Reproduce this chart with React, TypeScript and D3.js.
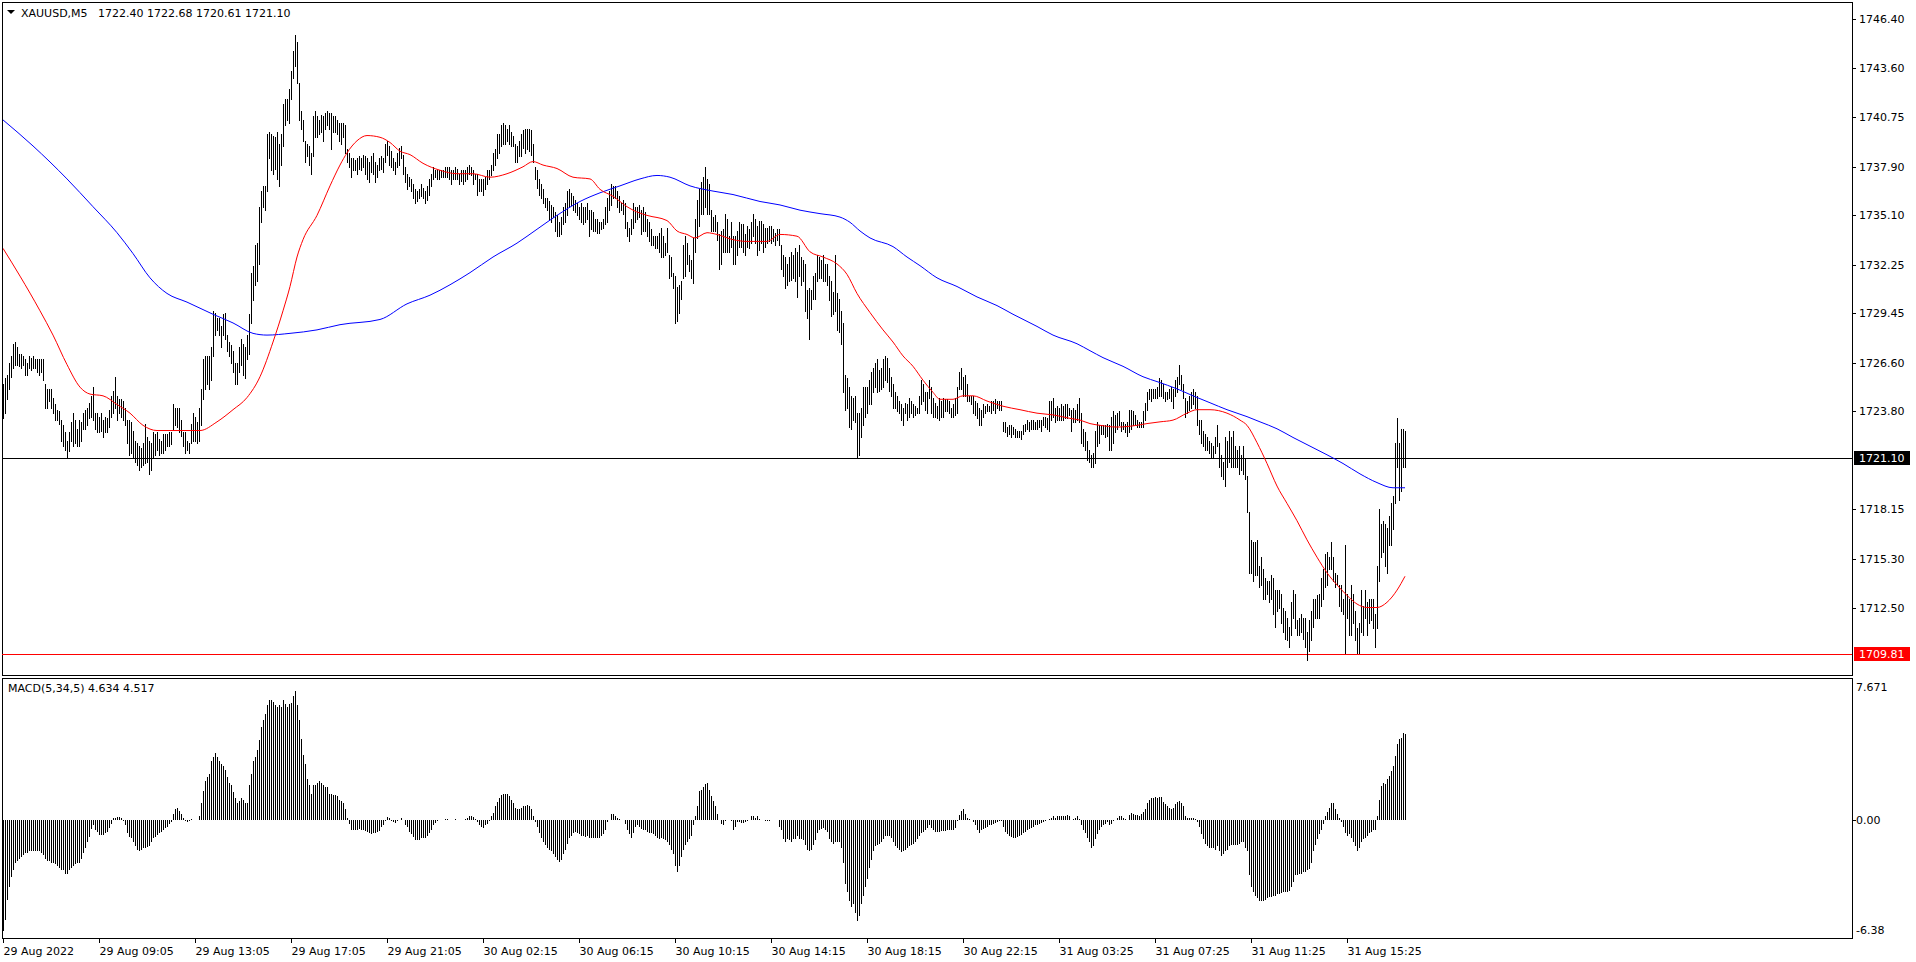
import { useEffect, useRef } from 'react';
import * as d3 from 'd3';

// 5-minute XAUUSD bars, highs and lows stored in tenths above 1700 (price = 1700 + v / 10)
const barHigh = [
  254, 257, 259, 266, 270, 277, 278, 275, 271, 271, 270, 268, 266, 270, 269, 270, 268, 268, 268, 268,
  268, 254, 251, 251, 251, 246, 242, 239, 238, 233, 230, 226, 221, 226, 232, 237, 233, 228, 233, 232,
  237, 239, 240, 243, 247, 252, 237, 237, 235, 237, 233, 235, 234, 239, 247, 250, 258, 247, 245, 245,
  244, 240, 233, 233, 232, 227, 221, 220, 218, 217, 220, 231, 223, 221, 220, 226, 225, 226, 222, 221,
  225, 225, 225, 226, 226, 242, 240, 240, 240, 233, 226, 226, 221, 220, 231, 237, 235, 232, 240, 251,
  268, 270, 270, 270, 275, 296, 295, 292, 292, 287, 294, 295, 282, 278, 276, 273, 266, 266, 275, 280,
  277, 275, 282, 294, 318, 322, 334, 335, 356, 365, 368, 368, 398, 399, 398, 397, 396, 399, 392, 398,
  415, 418, 418, 424,
  434, 446, 455, 451, 427, 411, 406, 394, 392, 391, 387, 408, 411, 408, 406, 409, 408, 410, 411, 410,
  410, 408, 408, 406, 404, 404, 404, 403, 389, 387, 384, 384, 383, 384, 385, 384, 386, 385, 384, 382,
  385, 387, 382, 380, 384, 385, 384, 392, 394, 391, 388, 384, 382, 387, 390, 391, 386, 379, 375, 373,
  372, 369, 366, 365, 366, 369, 367, 365, 368, 372, 375, 379, 377, 377, 377, 377, 377, 379, 379, 379,
  377, 377, 379, 378, 375, 377, 377, 377, 379, 380, 379, 377, 375, 375, 372, 372, 372, 373, 377, 377,
  380, 387, 389, 398, 398, 403, 404, 403, 401, 403, 399, 397, 392, 391, 394, 398, 400, 401, 401, 401,
  400, 392, 379, 377, 372, 369, 366, 361, 361, 359, 357, 356, 353, 351, 347, 350, 356, 358, 365, 366,
  364, 362, 360, 358, 356,
  358, 356, 356, 358, 354, 354, 353, 349, 349, 347, 347, 349, 356, 361, 365, 369, 368, 368, 365, 362,
  358, 360, 358, 347, 344, 349, 358, 356, 356, 357, 354, 356, 353, 349, 347, 343, 339, 339, 339, 341,
  344, 339, 335, 344, 328, 327, 318, 316, 310, 311, 313, 334, 339, 335, 328, 325, 338, 349, 360, 366,
  370, 373, 379, 372, 369, 354, 350, 351, 347, 340, 342, 343, 352, 349, 339, 347, 339, 339, 342, 347,
  346, 346, 340, 345, 343, 347, 352, 349, 345, 348, 348, 346, 344, 344, 345, 345, 343, 341, 343, 343,
  334, 328, 327, 323, 327, 330, 328, 332, 330, 334, 327, 325, 323, 308, 309, 308, 316, 318, 328, 327,
  325, 328, 323, 323, 316, 313, 307, 328, 306, 303, 296, 289, 259, 257, 252, 247, 246, 247, 237, 237,
  240, 252, 252, 252, 256,
  261, 263, 266, 268, 262, 263, 268, 270, 269, 263, 258, 254, 249, 247, 244, 242, 240, 243, 242, 246,
  244, 242, 241, 240, 247, 256, 254, 249, 249, 256, 252, 246, 243, 241, 246, 244, 246, 245, 245, 244,
  240, 242, 246, 252, 261, 263, 258, 259, 254, 247, 247, 247, 244, 243, 240, 239, 242, 241, 242, 241,
  244, 244, 245, 244, 244, 244, 232, 232, 229, 230, 230, 229, 228, 227, 227, 227, 230, 231, 233, 232,
  233, 233, 232, 233, 233, 233, 235, 235, 234, 244, 244, 246, 240, 241, 240, 242, 241, 242, 242, 240,
  239, 240, 239, 242, 246, 237, 228, 226, 221, 216, 213, 214, 227, 232, 230, 230, 230, 230, 231, 230,
  235, 238, 236, 237, 238, 232, 232, 231, 232, 239, 239, 238, 236, 233, 232, 232, 238, 243, 249, 251,
  251, 251, 251, 252, 257,
  256, 254, 249, 249, 251, 252, 251, 256, 258, 265, 259, 254, 246, 244, 247, 249, 251, 249, 247, 233,
  233, 227, 225, 223, 221, 220, 218, 223, 230, 220, 213, 209, 223, 221, 227, 223, 227, 218, 216, 218,
  213, 218, 211, 201, 180, 164, 163, 163, 164, 149, 154, 147, 142, 140, 140, 144, 142, 135, 135, 135,
  133, 125, 123, 119, 114, 128, 135, 133, 118, 119, 121, 119, 119, 111, 118, 123, 130, 130, 132, 133,
  142, 147, 156, 157, 154, 163, 154, 145, 144, 138, 138, 130, 161, 133, 130, 138, 133, 123, 113, 116,
  135, 126, 135, 128, 130, 130, 130, 121, 149, 182, 173, 175, 173, 171, 178, 185, 189, 220, 234, 220,
  228, 228, 227,
];

const barLow = [
  234, 237, 245, 251, 258, 263, 265, 265, 264, 263, 265, 259, 259, 263, 262, 263, 263, 261, 259, 261,
  256, 240, 240, 244, 240, 237, 233, 233, 231, 221, 218, 216, 211, 215, 221, 218, 220, 218, 218, 221,
  228, 228, 230, 234, 235, 233, 228, 226, 226, 227, 223, 226, 226, 229, 235, 237, 240, 233, 237, 235,
  233, 230, 220, 213, 214, 211, 209, 207, 204, 206, 207, 208, 209, 202, 204, 212, 213, 216, 213, 214,
  214, 216, 218, 218, 219, 228, 230, 229, 226, 224, 218, 214, 216, 214, 220, 221, 221, 220, 221, 230,
  245, 251, 254, 251, 256, 270, 282, 285, 282, 275, 282, 280, 273, 270, 266, 261, 254, 254, 261, 265,
  259, 257, 268, 271, 289, 302, 311, 313, 323, 347, 356, 354, 365, 384, 377, 375, 378, 372, 368, 380,
  391, 403, 406, 404,
  418, 430, 437, 427, 406, 401, 394, 382, 385, 380, 375, 385, 396, 396, 398, 399, 394, 401, 403, 401,
  389, 399, 399, 398, 394, 392, 396, 387, 382, 379, 373, 377, 377, 375, 378, 377, 379, 375, 372, 370,
  376, 375, 370, 373, 377, 378, 376, 382, 386, 380, 379, 377, 375, 379, 380, 384, 375, 370, 366, 368,
  365, 361, 358, 359, 361, 362, 361, 358, 360, 363, 368, 372, 373, 372, 372, 373, 373, 373, 373, 372,
  369, 372, 372, 372, 369, 371, 369, 371, 372, 375, 374, 369, 372, 363, 365, 365, 363, 366, 369, 372,
  374, 377, 380, 384, 387, 391, 392, 392, 394, 392, 391, 391, 382, 382, 385, 385, 390, 387, 389, 388,
  386, 382, 372, 367, 363, 361, 358, 356, 354, 349, 347, 350, 342, 339, 339, 340, 346, 347, 351, 356,
  357, 354, 353, 351, 349,
  347, 346, 347, 349, 339, 343, 342, 342, 341, 341, 343, 344, 346, 347, 354, 357, 361, 361, 356, 353,
  354, 352, 344, 339, 336, 340, 344, 347, 349, 350, 340, 342, 342, 339, 336, 334, 334, 332, 332, 330,
  327, 327, 328, 330, 315, 316, 309, 289, 290, 295, 303, 315, 316, 323, 319, 315, 312, 330, 338, 345,
  352, 352, 356, 352, 352, 342, 342, 342, 337, 320, 323, 330, 330, 330, 330, 333, 323, 323, 328, 333,
  333, 330, 328, 333, 332, 335, 339, 335, 328, 331, 335, 330, 333, 335, 336, 335, 336, 334, 337, 334,
  320, 316, 309, 311, 313, 314, 315, 313, 304, 316, 311, 313, 296, 292, 280, 297, 303, 303, 313, 315,
  315, 313, 313, 311, 302, 293, 294, 296, 285, 284, 277, 249, 239, 240, 229, 228, 233, 232, 211, 213,
  223, 230, 235, 237, 242,
  242, 249, 252, 249, 250, 251, 252, 256, 255, 250, 247, 240, 240, 238, 237, 233, 230, 237, 233, 235,
  237, 235, 236, 237, 237, 242, 244, 239, 237, 246, 237, 235, 235, 234, 233, 235, 235, 238, 238, 237,
  235, 235, 236, 237, 251, 251, 247, 247, 244, 244, 242, 237, 236, 234, 230, 230, 235, 237, 238, 238,
  237, 239, 237, 240, 239, 239, 227, 226, 224, 225, 223, 225, 223, 223, 223, 222, 225, 227, 228, 227,
  228, 228, 228, 228, 229, 227, 230, 229, 228, 227, 233, 235, 232, 233, 233, 233, 233, 234, 234, 236,
  227, 232, 232, 233, 232, 220, 218, 216, 210, 209, 206, 206, 208, 218, 220, 225, 225, 223, 224, 216,
  216, 220, 226, 228, 230, 227, 228, 226, 224, 226, 228, 230, 230, 229, 229, 229, 229, 233, 239, 245,
  244, 246, 246, 246, 247,
  247, 246, 244, 245, 246, 244, 240, 247, 249, 254, 251, 246, 235, 237, 239, 240, 242, 240, 230, 225,
  220, 218, 216, 216, 214, 211, 211, 214, 218, 206, 201, 199, 195, 206, 209, 206, 206, 206, 206, 202,
  204, 202, 199, 180, 145, 145, 140, 144, 144, 137, 138, 130, 130, 133, 128, 130, 121, 114, 123, 125,
  116, 111, 107, 106, 102, 109, 119, 113, 109, 109, 111, 107, 102, 95, 100, 106, 114, 119, 119, 119,
  126, 130, 137, 138, 147, 147, 140, 137, 138, 126, 123, 121, 99, 119, 109, 109, 116, 106, 99, 99,
  111, 109, 119, 109, 116, 118, 113, 102, 113, 140, 154, 157, 149, 145, 161, 161, 170, 185, 206, 187,
  192, 206, 206,
];

// MACD(5,34,5) main line, one value per bar
const macdValues = [
  -6.0, -5.4, -4.3, -3.6, -3.1, -2.7, -2.3, -2.2, -2.1, -2.0, -1.9, -1.8, -1.8, -1.7, -1.7, -1.7, -1.7, -1.7, -1.7, -1.8,
  -1.9, -2.1, -2.2, -2.2, -2.3, -2.3, -2.4, -2.5, -2.6, -2.7, -2.7, -2.9, -2.9, -2.7, -2.6, -2.5, -2.4, -2.3, -2.3, -2.1,
  -1.8, -1.5, -1.2, -0.9, -0.5, -0.3, -0.55, -0.65, -0.8, -0.8, -0.8, -0.7, -0.65, -0.45, -0.2, 0.1, 0.13, 0.15, 0.15, 0.1,
  -0.05, -0.3, -0.7, -0.9, -1.0, -1.2, -1.4, -1.6, -1.7, -1.6, -1.5, -1.5, -1.45, -1.4, -1.2, -1.0, -0.9, -0.8, -0.7, -0.65,
  -0.55, -0.45, -0.4, -0.2, -0.1, 0.3, 0.6, 0.65, 0.5, 0.3, 0.1, -0.05, -0.1, -0.05, 0.05, 0, 0, 0, 0.2, 0.9,
  1.55, 2.1, 2.3, 2.5, 3.2, 3.4, 3.6, 3.4, 3.2, 3.0, 2.9, 2.7, 2.3, 2.0, 1.9, 1.5, 1.2, 0.9, 1.0, 1.2,
  1.1, 0.9, 0.9, 1.9, 2.5, 3.2, 3.4, 3.8, 4.3, 5.0, 5.4, 5.7, 6.2, 6.5, 6.5, 6.35, 6.2, 6.1, 6.2, 6.1,
  6.5, 6.25, 6.1, 6.25,
  6.3, 6.7, 6.95, 6.2, 5.4, 4.4, 3.5, 3.0, 2.2, 1.9, 1.4, 1.9, 1.9, 2.0, 2.1, 2.0, 1.9, 1.8, 1.8, 1.4,
  1.4, 1.35, 1.35, 1.3, 1.1, 1.05, 0.9, 0.6, 0.1, -0.2, -0.55, -0.55, -0.55, -0.55, -0.5, -0.55, -0.55, -0.6, -0.65, -0.7,
  -0.77, -0.7, -0.7, -0.65, -0.58, -0.4, -0.25, -0.05, 0.15, 0.12, -0.05, -0.12, -0.15, -0.05, 0, 0.12, 0, -0.25, -0.4, -0.65,
  -0.77, -0.9, -1.1, -1.1, -1.1, -1.0, -1.0, -0.95, -0.87, -0.7, -0.55, -0.3, -0.15, -0.05, 0, -0.03, 0, 0.03, 0.03, 0,
  0, 0, 0.03, 0, -0.03, -0.03, 0, 0.06, 0.1, 0.2, 0.2, 0.16, 0.06, -0.13, -0.25, -0.4, -0.45, -0.3, -0.2, -0.05,
  0.2, 0.4, 0.75, 0.95, 1.2, 1.35, 1.4, 1.38, 1.38, 1.3, 1.1, 0.9, 0.65, 0.6, 0.6, 0.65, 0.75, 0.75, 0.8, 0.75,
  0.6, 0.2, -0.13, -0.4, -0.7, -0.95, -1.2, -1.35, -1.5, -1.6, -1.67, -1.83, -2.0, -2.15, -2.25, -2.15, -1.83, -1.6, -1.3, -1.0,
  -0.87, -0.7, -0.65, -0.7, -0.77,
  -0.87, -0.87, -0.93, -0.87, -0.96, -0.96, -0.96, -0.96, -0.96, -0.96, -0.87, -0.77, -0.55, -0.13, 0, 0.32, 0.32, 0.2, 0.1, 0.03,
  0, 0, -0.22, -0.55, -0.77, -0.96, -0.7, -0.4, -0.3, -0.4, -0.5, -0.55, -0.55, -0.65, -0.7, -0.7, -0.77, -0.87, -0.96, -1.03,
  -0.96, -1.03, -1.1, -1.2, -1.35, -1.6, -1.83, -2.5, -2.8, -2.5, -2.0, -1.6, -1.35, -1.2, -1.03, -0.87, -0.3, 0.2, 0.75, 1.55,
  1.6, 1.8, 1.93, 2.0, 1.6, 1.3, 1.05, 0.75, 0.32, 0, -0.22, -0.3, -0.06, 0, 0, -0.06, -0.55, -0.4, -0.13, -0.13,
  -0.19, -0.19, -0.13, -0.06, 0, 0.2, 0.2, 0.1, 0.2, 0.06, 0, -0.03, -0.06, -0.06, -0.06, -0.03, 0, 0, 0, -0.4,
  -0.55, -1.03, -1.2, -1.03, -1.1, -1.2, -1.03, -1.03, -0.87, -1.03, -1.03, -1.1, -1.35, -1.6, -1.67, -1.6, -1.35, -1.1, -0.7, -0.55,
  -0.5, -0.45, -0.55, -0.65, -1.03, -1.2, -1.3, -1.2, -1.2, -1.2, -1.5, -2.3, -3.45, -3.9, -4.4, -4.7, -4.55, -5.05, -5.45, -5.2,
  -4.55, -4.1, -3.6, -3.2, -2.6,
  -2.15, -1.67, -1.4, -1.35, -1.3, -1.2, -1.03, -0.87, -0.87, -0.87, -0.96, -1.2, -1.4, -1.5, -1.6, -1.73, -1.67, -1.6, -1.5, -1.4,
  -1.35, -1.3, -1.2, -1.03, -0.87, -0.7, -0.65, -0.55, -0.45, -0.3, -0.45, -0.55, -0.65, -0.65, -0.65, -0.58, -0.58, -0.58, -0.55, -0.55,
  -0.55, -0.55, -0.45, -0.06, 0.26, 0.5, 0.58, 0.32, 0.13, 0.03, 0, -0.13, -0.3, -0.55, -0.7, -0.55, -0.5, -0.45, -0.4, -0.3,
  -0.25, -0.22, -0.16, -0.13, -0.06, -0.06, -0.4, -0.65, -0.77, -0.87, -0.93, -0.96, -0.96, -0.9, -0.87, -0.8, -0.7, -0.65, -0.55, -0.5,
  -0.45, -0.4, -0.3, -0.25, -0.22, -0.19, -0.13, -0.06, -0.03, 0.06, 0.13, 0.2, 0.13, 0.2, 0.22, 0.22, 0.2, 0.22, 0.26, 0.2,
  0, 0.06, 0.13, 0.2, 0.06, -0.3, -0.55, -0.7, -0.96, -1.2, -1.5, -1.4, -1.03, -0.77, -0.55, -0.4, -0.3, -0.22, -0.13, -0.3,
  -0.22, -0.06, 0, 0.13, 0.2, 0.2, 0.1, 0.06, 0, 0.26, 0.35, 0.32, 0.26, 0.26, 0.22, 0.32, 0.42, 0.58, 0.9, 1.06,
  1.16, 1.2, 1.22, 1.2, 1.22,
  1.22, 0.96, 0.84, 0.74, 0.64, 0.58, 0.64, 0.84, 0.96, 1.03, 0.9, 0.74, 0.2, 0.13, 0.1, 0.1, 0.1, 0.06, -0.13, -0.4,
  -0.77, -1.03, -1.3, -1.4, -1.5, -1.5, -1.5, -1.6, -1.4, -1.67, -1.93, -1.83, -1.67, -1.6, -1.4, -1.35, -1.35, -1.35, -1.35, -1.3,
  -1.2, -1.2, -1.5, -1.67, -2.96, -3.6, -3.9, -4.1, -4.24, -4.4, -4.4, -4.4, -4.34, -4.24, -4.18, -4.15, -4.1, -4.1, -4.0, -4.0,
  -3.95, -3.9, -3.9, -3.9, -3.86, -3.6, -3.35, -3.0, -3.0, -2.9, -2.9, -2.8, -2.8, -2.7, -2.64, -2.3, -1.67, -1.35, -1.03, -0.77,
  -0.55, -0.22, 0.2, 0.42, 0.64, 0.9, 0.9, 0.58, 0.32, 0.13, -0.13, -0.4, -0.7, -0.87, -0.77, -0.96, -1.2, -1.4, -1.67, -1.5,
  -1.2, -1.03, -0.96, -0.87, -0.7, -0.65, -0.55, -0.55, 0.2, 1.06, 1.86, 2.0, 1.93, 2.2, 2.35, 2.67, 2.9, 3.47, 4.1, 4.37,
  4.44, 4.7, 4.63,
];

// moving averages as [bar index, price]
const redMa = [
  [0, 1733.2], [8.5, 1731.6], [18.5, 1729.6], [25, 1728.2], [32, 1726.5], [38.5, 1725.2], [43.5, 1724.8], [50, 1724.7],
  [57, 1724.2], [63.5, 1723.7], [70, 1723.0], [77, 1722.7], [85, 1722.7], [92, 1722.7], [98.5, 1722.7], [107, 1723.2],
  [115, 1723.9], [122, 1724.6], [128.5, 1725.8], [135, 1727.8], [140, 1729.6], [143.5, 1731.0], [147, 1732.7], [150, 1733.7],
  [157, 1735.1], [163.5, 1736.8], [168.5, 1738.0], [172, 1738.7], [177, 1739.4], [182, 1739.7], [188.5, 1739.6], [193.5, 1739.3],
  [198.5, 1738.8], [203.5, 1738.6], [210, 1738.1], [218.5, 1737.7], [227, 1737.5], [235, 1737.5], [243.5, 1737.3], [252, 1737.5],
  [260, 1737.9], [265, 1738.2], [270, 1738.0], [277, 1737.8], [285, 1737.3], [293.5, 1737.2], [298.5, 1736.6], [305, 1736.2],
  [312, 1735.6], [315, 1735.4], [322, 1735.1], [332, 1734.8], [337, 1734.2], [342, 1734.0], [346, 1733.8], [352, 1734.1],
  [357, 1734.0], [365, 1733.7], [372, 1733.6], [382, 1733.6], [388.5, 1734.0], [397, 1733.9], [403.5, 1733.0], [410, 1732.7],
  [417, 1732.3], [422, 1731.7], [427, 1730.6], [433.5, 1729.5], [440, 1728.5], [445, 1727.8], [450, 1727.0], [455, 1726.4],
  [460, 1725.6], [465, 1724.9], [468.5, 1724.5], [475, 1724.5], [480, 1724.7], [485, 1724.7], [492, 1724.4], [500, 1724.1],
  [508.5, 1723.9], [517, 1723.7], [525, 1723.6], [533.5, 1723.4], [538.5, 1723.3], [543.5, 1723.1], [548.5, 1723.0], [557, 1722.9],
  [567, 1723.0], [572, 1723.1], [578.5, 1723.2], [585, 1723.3], [592, 1723.7], [597, 1723.9], [603.5, 1723.9], [612, 1723.7],
  [618.5, 1723.3], [622, 1723.0], [627, 1722.0], [632, 1720.8], [637, 1719.5], [642, 1718.5], [647, 1717.5], [652, 1716.4],
  [657, 1715.4], [662, 1714.5], [667, 1713.8], [672, 1713.2], [677, 1712.7], [682, 1712.5], [687, 1712.5], [692, 1712.8],
  [697, 1713.5], [701, 1714.3],
];

const blueMa = [
  [0, 1740.6], [15, 1739.1], [32, 1737.2], [45, 1735.6], [57, 1734.1], [65, 1732.9], [73.5, 1731.5], [82, 1730.6],
  [92, 1730.1], [105, 1729.4], [115, 1728.9], [125, 1728.3], [132, 1728.2], [143.5, 1728.3], [157, 1728.5], [168.5, 1728.8],
  [188.5, 1729.1], [202, 1730.0], [213.5, 1730.5], [223.5, 1731.1], [233.5, 1731.8], [245, 1732.7], [257, 1733.5], [267, 1734.3],
  [277, 1735.1], [288.5, 1735.9], [298.5, 1736.4], [308.5, 1736.8], [318.5, 1737.2], [327, 1737.4], [333.5, 1737.3], [343.5, 1736.8],
  [355, 1736.5], [365, 1736.3], [378.5, 1735.9], [388.5, 1735.7], [398.5, 1735.4], [408.5, 1735.2], [418.5, 1735.0], [423.5, 1734.7],
  [428.5, 1734.2], [433.5, 1733.8], [445, 1733.3], [452, 1732.7], [458.5, 1732.2], [467, 1731.5], [477, 1731.0], [487, 1730.4],
  [497, 1729.9], [505, 1729.4], [517, 1728.7], [525, 1728.2], [537, 1727.7], [543.5, 1727.3], [550, 1726.9], [560, 1726.4],
  [570, 1725.8], [577.5, 1725.5], [587, 1725.1], [595, 1724.7], [603.5, 1724.3], [612, 1723.9], [622, 1723.5], [628.5, 1723.2],
  [637, 1722.8], [645, 1722.3], [653.5, 1721.8], [662, 1721.3], [670, 1720.8], [678.5, 1720.2], [687, 1719.7], [695, 1719.4],
  [701, 1719.4],
];

const priceTicks = [1746.4, 1743.6, 1740.75, 1737.9, 1735.1, 1732.25, 1729.45, 1726.6, 1723.8, 1718.15, 1715.3, 1712.5];
const lastClose = 1721.1;
const lowLine = 1709.81;
const macdMax = 7.671;
const macdMin = -6.38;

const timeLabelBars = [0, 48, 96, 144, 192, 240, 288, 336, 384, 432, 480, 528, 576, 624, 672];
const timeLabels = [
  '29 Aug 2022', '29 Aug 09:05', '29 Aug 13:05', '29 Aug 17:05', '29 Aug 21:05', '30 Aug 02:15', '30 Aug 06:15',
  '30 Aug 10:15', '30 Aug 14:15', '30 Aug 18:15', '30 Aug 22:15', '31 Aug 03:25', '31 Aug 07:25', '31 Aug 11:25',
  '31 Aug 15:25',
];

const WIDTH = 1916;
const HEIGHT = 962;
const LEFT = 2;
const RIGHT = 1852;
const MAIN_TOP = 2;
const MAIN_BOTTOM = 675;
const MACD_TOP = 678;
const MACD_BOTTOM = 938;
const FONT = 'Tahoma, "DejaVu Sans", sans-serif';

const toPrice = (v: number) => 1700 + v / 10;

export default function App() {
  const svgRef = useRef<SVGSVGElement>(null);

  useEffect(() => {
    if (!svgRef.current) return;
    const svg = d3.select(svgRef.current);
    svg.selectAll('*').remove();

    const x = d3.scaleLinear().domain([0, barHigh.length - 1]).range([3, 3 + 2 * (barHigh.length - 1)]);
    const y = d3.scaleLinear().domain([1746.4, 1712.5]).range([19.3, 607.5]);
    const ym = d3.scaleLinear().domain([macdMax, macdMin]).range([MACD_TOP, MACD_BOTTOM]);

    svg.append('rect').attr('width', WIDTH).attr('height', HEIGHT).attr('fill', '#fff');

    const defs = svg.append('defs');
    defs.append('clipPath').attr('id', 'main-clip')
      .append('rect').attr('x', LEFT + 1).attr('y', MAIN_TOP + 1)
      .attr('width', RIGHT - LEFT - 1).attr('height', MAIN_BOTTOM - MAIN_TOP - 1);

    const crisp = svg.append('g').attr('shape-rendering', 'crispEdges');

    // pane frames
    crisp.append('rect')
      .attr('x', LEFT + 0.5).attr('y', MAIN_TOP + 0.5)
      .attr('width', RIGHT - LEFT).attr('height', MAIN_BOTTOM - MAIN_TOP)
      .attr('fill', 'none').attr('stroke', '#000');
    crisp.append('rect')
      .attr('x', LEFT + 0.5).attr('y', MACD_TOP + 0.5)
      .attr('width', RIGHT - LEFT).attr('height', MACD_BOTTOM - MACD_TOP)
      .attr('fill', 'none').attr('stroke', '#000');

    // horizontal price lines
    const closeY = Math.round(y(lastClose)) + 0.5;
    crisp.append('line').attr('x1', LEFT).attr('x2', RIGHT).attr('y1', closeY).attr('y2', closeY).attr('stroke', '#000');
    const lowY = Math.round(y(lowLine)) + 0.5;
    crisp.append('line').attr('x1', LEFT).attr('x2', RIGHT).attr('y1', lowY).attr('y2', lowY).attr('stroke', '#ff0000');

    // price bars
    const bars = crisp.append('g').attr('clip-path', 'url(#main-clip)');
    barHigh.forEach((h, i) => {
      const top = Math.round(y(toPrice(h)));
      const bottom = Math.round(y(toPrice(barLow[i])));
      bars.append('rect')
        .attr('x', Math.round(x(i)))
        .attr('y', top)
        .attr('width', 1)
        .attr('height', Math.max(1, bottom - top + 1))
        .attr('fill', '#000');
    });

    // moving averages
    const maLine = d3.line<number[]>()
      .x((d) => x(d[0]))
      .y((d) => y(d[1]))
      .curve(d3.curveMonotoneX);
    const maG = svg.append('g').attr('clip-path', 'url(#main-clip)');
    maG.append('path').attr('d', maLine(blueMa)).attr('fill', 'none').attr('stroke', '#0000ff').attr('stroke-width', 1);
    maG.append('path').attr('d', maLine(redMa)).attr('fill', 'none').attr('stroke', '#ff0000').attr('stroke-width', 1);

    // MACD histogram
    const zeroY = Math.round(ym(0));
    const hist = crisp.append('g');
    macdValues.forEach((v, i) => {
      const vy = Math.round(ym(v));
      const top = Math.min(zeroY, vy);
      const h = Math.abs(vy - zeroY);
      if (h === 0) return;
      hist.append('rect')
        .attr('x', Math.round(x(i)))
        .attr('y', top)
        .attr('width', 1)
        .attr('height', h)
        .attr('fill', '#000');
    });

    // price axis
    const axis = svg.append('g').attr('font-family', FONT).attr('font-size', 11).style('white-space', 'pre');
    priceTicks.forEach((p) => {
      const ty = Math.round(y(p)) + 0.5;
      crisp.append('line').attr('x1', RIGHT).attr('x2', RIGHT + 4).attr('y1', ty).attr('y2', ty).attr('stroke', '#000');
      axis.append('text').attr('x', 1859).attr('y', ty).attr('dy', '0.36em').attr('fill', '#000')
        .text(p.toFixed(2));
    });

    const tag = (value: number, bg: string) => {
      const ty = Math.round(y(value));
      crisp.append('rect').attr('x', 1854).attr('y', ty - 7).attr('width', 56).attr('height', 14).attr('fill', bg);
      axis.append('text').attr('x', 1859).attr('y', ty).attr('dy', '0.36em').attr('fill', '#fff')
        .text(value.toFixed(2));
    };
    tag(lastClose, '#000');
    tag(lowLine, '#ff0000');

    // MACD axis
    crisp.append('line').attr('x1', RIGHT).attr('x2', RIGHT + 4).attr('y1', zeroY + 0.5).attr('y2', zeroY + 0.5).attr('stroke', '#000');
    axis.append('text').attr('x', 1856).attr('y', MACD_TOP + 9).attr('dy', '0.36em').text(macdMax.toFixed(3));
    axis.append('text').attr('x', 1856).attr('y', zeroY).attr('dy', '0.36em').text((0).toFixed(2));
    axis.append('text').attr('x', 1856).attr('y', MACD_BOTTOM - 8).attr('dy', '0.36em').text(macdMin.toFixed(2));

    // time axis
    timeLabelBars.forEach((b, k) => {
      const tx = Math.round(x(b)) + 0.5;
      crisp.append('line').attr('x1', tx).attr('x2', tx).attr('y1', MACD_BOTTOM).attr('y2', MACD_BOTTOM + 5).attr('stroke', '#000');
      axis.append('text').attr('x', tx).attr('y', 955).attr('fill', '#000').text(timeLabels[k]);
    });

    // titles
    svg.append('path').attr('d', 'M7,10 L15,10 L11,14 Z').attr('fill', '#000');
    axis.append('text').attr('x', 21).attr('y', 16.5).attr('fill', '#000')
      .text('XAUUSD,M5\u00a0\u00a0 1722.40 1722.68 1720.61 1721.10');
    axis.append('text').attr('x', 8).attr('y', 692).attr('fill', '#000')
      .text(`MACD(5,34,5) ${(4.634).toFixed(3)} ${(4.517).toFixed(3)}`);
  }, []);

  return (
    <div style={{ position: 'absolute', left: 0, top: 0, background: '#fff' }}>
      <svg ref={svgRef} width={WIDTH} height={HEIGHT} style={{ display: 'block' }} />
    </div>
  );
}
